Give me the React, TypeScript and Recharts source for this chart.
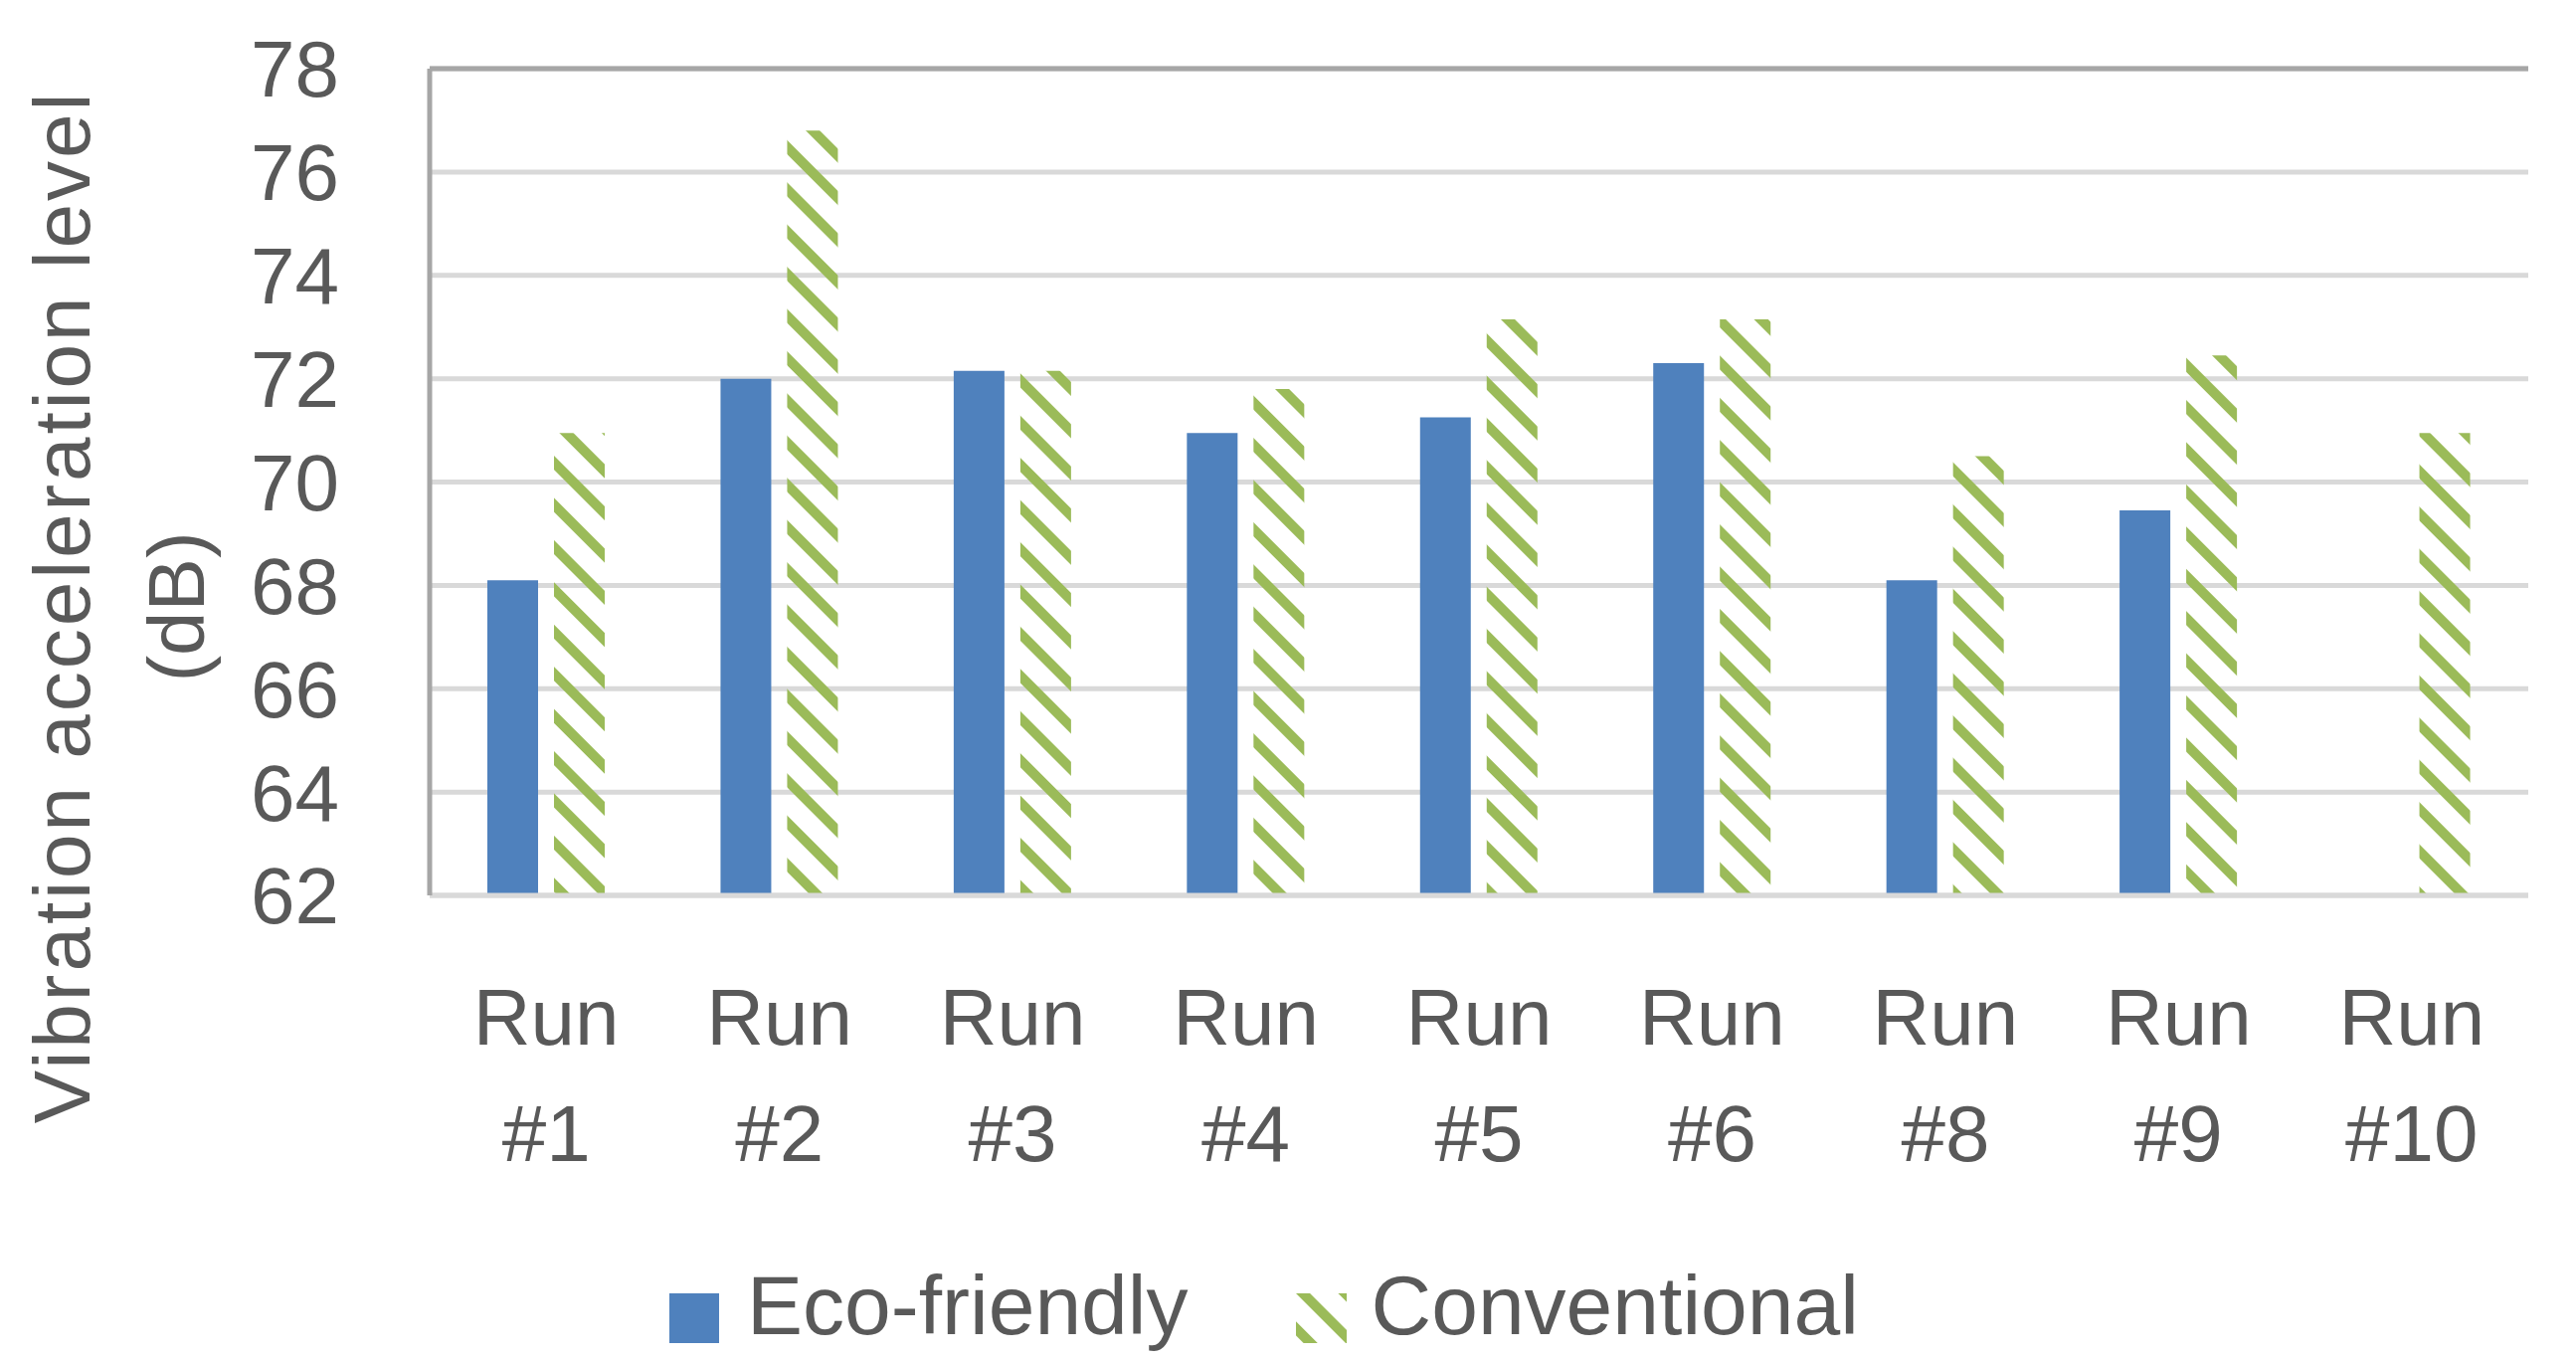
import React from "react";
import {
  BarChart,
  Bar,
  XAxis,
  YAxis,
  CartesianGrid,
  ReferenceLine,
  Legend,
  Label,
} from "recharts";

const categories = [
  "Run #1",
  "Run #2",
  "Run #3",
  "Run #4",
  "Run #5",
  "Run #6",
  "Run #8",
  "Run #9",
  "Run #10",
];
const ecoFriendly = [68.1, 72.0, 72.15, 70.95, 71.25, 72.3, 68.1, 69.45, null];
const conventional = [70.95, 76.8, 72.15, 71.8, 73.15, 73.15, 70.5, 72.45, 70.95];
const yTicks = [62, 64, 66, 68, 70, 72, 74, 76, 78];

const data = categories.map((run, i) => ({
  run,
  eco: ecoFriendly[i],
  conv: conventional[i],
}));

const FONT = "'Liberation Sans', Arial, sans-serif";
const TEXT = "#595959";
const BLUE = "#4F81BD";
const GREEN = "#9BBB59";

const RunTick = (props: any) => {
  const { x, y, payload } = props;
  const [a, b] = String(payload.value).split(" ");
  return (
    <text x={x} y={y} textAnchor="middle" fontSize={80} fill={TEXT} fontFamily={FONT}>
      <tspan x={x} dy={142}>{a}</tspan>
      <tspan x={x} dy={117}>{b}</tspan>
    </text>
  );
};

const AxisTitle = () => (
  <g fill={TEXT} fontFamily={FONT} fontSize={80}>
    <text transform="translate(90,610) rotate(-90)" textAnchor="middle" letterSpacing={3}>
      Vibration acceleration level
    </text>
    <text transform="translate(205,610) rotate(-90)" textAnchor="middle">
      (dB)
    </text>
  </g>
);

const LegendBox = () => (
  <div style={{ display: "flex", alignItems: "flex-end", fontFamily: FONT, fontSize: 84, color: TEXT, lineHeight: 1 }}>
    <svg width={50} height={50} style={{ marginRight: 28, marginBottom: 4 }}>
      <rect width={50} height={50} fill={BLUE} />
    </svg>
    <span>Eco-friendly</span>
    <svg width={51} height={50} style={{ marginLeft: 108, marginRight: 25, marginBottom: 4 }}>
      <defs>
        <pattern id="hatchLegend" patternUnits="userSpaceOnUse" width={30} height={30} patternTransform="rotate(-45)">
          <rect width={10} height={30} fill={GREEN} />
        </pattern>
      </defs>
      <rect width={51} height={50} fill="url(#hatchLegend)" />
    </svg>
    <span>Conventional</span>
  </div>
);

export default function App() {
  return (
    <div style={{ position: "absolute", left: 0, top: 0, background: "#fff" }}>
      <BarChart
        width={2590}
        height={1368}
        data={data}
        margin={{ top: 69, right: 48, bottom: 268, left: 132 }}
        barSize={51}
        barGap={16}
      >
        <defs>
          <pattern id="hatch" patternUnits="userSpaceOnUse" width={30} height={30} patternTransform="rotate(-45)">
            <rect width={10} height={30} fill={GREEN} />
          </pattern>
        </defs>
        <CartesianGrid vertical={false} stroke="#D9D9D9" strokeWidth={5} />
        <XAxis
          dataKey="run"
          height={200}
          tickLine={false}
          axisLine={{ stroke: "#D9D9D9", strokeWidth: 5 }}
          tick={<RunTick />}
          interval={0}
        />
        <YAxis
          width={300}
          domain={[62, 78]}
          ticks={yTicks}
          tickLine={false}
          tickMargin={85}
          axisLine={{ stroke: "#A6A6A6", strokeWidth: 5 }}
          tick={{ fontSize: 80, fill: TEXT, fontFamily: FONT }}
        >
          <Label content={<AxisTitle />} />
        </YAxis>
        <YAxis
          yAxisId="right"
          orientation="right"
          width={0}
          domain={[62, 78]}
          tick={false}
          tickLine={false}
          axisLine={{ stroke: "#A6A6A6", strokeWidth: 5 }}
        />
        <ReferenceLine y={78} stroke="#A6A6A6" strokeWidth={5} />
        <Bar dataKey="eco" name="Eco-friendly" fill={BLUE} isAnimationActive={false} />
        <Bar dataKey="conv" name="Conventional" fill="url(#hatch)" isAnimationActive={false} />
        <Legend
          layout="horizontal"
          verticalAlign="middle"
          align="center"
          content={<LegendBox />}
          wrapperStyle={{ position: "absolute", left: 673, top: 1270, width: "auto" }}
        />
      </BarChart>
    </div>
  );
}
